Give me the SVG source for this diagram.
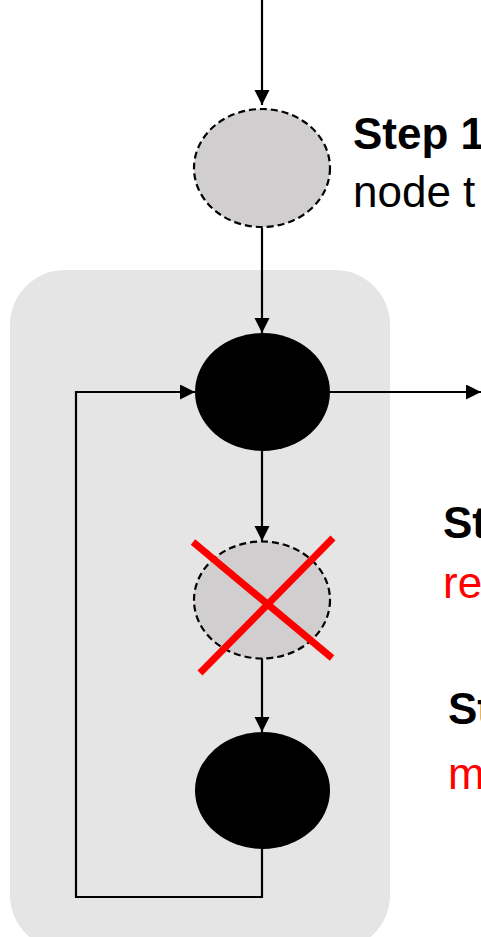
<svg xmlns="http://www.w3.org/2000/svg" width="481" height="937" viewBox="0 0 481 937">
<style>
.conn{fill:none;stroke:#000;stroke-width:2.2}
.ghost{fill:#d0cece;stroke:#000;stroke-width:2.2;stroke-dasharray:7 4}
.solid{fill:#000}
.t{font-family:"Liberation Sans",Arial,sans-serif;font-size:44px}
.b{font-weight:bold;fill:#000}
.r{fill:#ff0000}
.k{fill:#000}
.x{stroke:#ff0000;stroke-width:7;stroke-linecap:butt}
</style>
<defs>
<marker id="ah" markerUnits="userSpaceOnUse" markerWidth="16" markerHeight="16" refX="15" refY="7.5" orient="auto">
<path d="M0,0 L15,7.5 L0,15 z" fill="#000"/>
</marker>
</defs>
<rect id="loop-box" x="10" y="270" width="380" height="680" rx="55" ry="55" fill="#e5e5e5"/>
<g id="connectors">
<line class="conn" x1="262" y1="0" x2="262" y2="105" marker-end="url(#ah)"/>
<line class="conn" x1="262" y1="228" x2="262" y2="333" marker-end="url(#ah)"/>
<line class="conn" x1="330" y1="392" x2="481" y2="392" marker-end="url(#ah)"/>
<line class="conn" x1="262" y1="451" x2="262" y2="541" marker-end="url(#ah)"/>
<line class="conn" x1="262" y1="658" x2="262" y2="732" marker-end="url(#ah)"/>
<path class="conn" d="M262,849 V897 H76 V392 H195" marker-end="url(#ah)"/>
</g>
<g id="node-1">
<ellipse class="ghost" cx="262" cy="168" rx="68" ry="59"/>
</g>
<g id="node-2">
<ellipse class="solid" cx="262.5" cy="392" rx="67.5" ry="59"/>
</g>
<g id="node-3">
<ellipse class="ghost" cx="262" cy="600" rx="68" ry="58.5"/>
<line class="x" x1="193" y1="542" x2="332" y2="658"/>
<line class="x" x1="333" y1="538" x2="200" y2="673"/>
</g>
<g id="node-4">
<ellipse class="solid" cx="262.5" cy="790.5" rx="67.5" ry="58.5"/>
</g>
<g id="labels">
<text class="t b" x="353" y="149">Step 1</text>
<text class="t k" x="353" y="207">node t</text>
<text class="t b" x="443" y="538">St</text>
<text class="t r" x="443" y="598">re</text>
<text class="t b" x="448" y="724">St</text>
<text class="t r" x="448" y="789">m</text>
</g>
</svg>
